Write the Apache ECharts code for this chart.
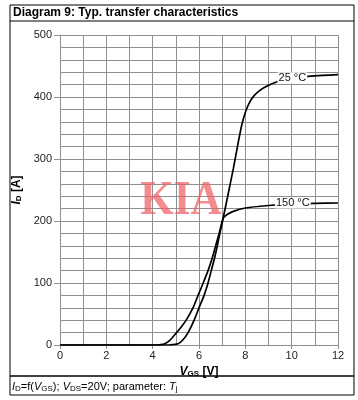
<!DOCTYPE html>
<html><head><meta charset="utf-8">
<script src="https://cdn.jsdelivr.net/npm/echarts@6/dist/echarts.min.js"></script>
<style>html,body{margin:0;padding:0;background:#fff}#c{width:358px;height:400px}</style>
</head><body><div id="c"></div>
<script>
// Axis ticks
const xTicks = [0, 2, 4, 6, 8, 10, 12];
const yTicks = [0, 100, 200, 300, 400, 500];
// I_D [A] vs V_GS [V]
const curve25 = [[0,0],[4.7,0],[4.85,0.5],[5.1,2],[5.3,8],[5.53,20],[5.79,40],[6.0,60],[6.22,80],[6.39,100],[6.53,120],[6.67,140],[6.79,160],[6.9,180],[7.04,204],[7.25,242],[7.48,284],[7.68,324],[7.84,354],[8.0,375],[8.15,389],[8.35,401],[8.6,410],[8.9,417],[9.4,425],[10,430],[11,434],[12,436]];
const curve150 = [[0,0],[4.2,0],[4.35,0.5],[4.52,2],[4.75,8],[5.03,20],[5.25,30],[5.46,41],[5.74,60],[5.96,80],[6.18,100],[6.39,120],[6.57,140],[6.72,160],[6.87,180],[7.04,204],[7.2,210],[7.48,215.5],[8.0,221],[9.0,225],[10,227.5],[11,228.5],[12,229]];
const curveNames = ['25 °C', '150 °C'];
const labelCoords = [[10.03, 431], [10.05, 229]];

const FONT = '"Liberation Sans", Arial, sans-serif';
const chart = echarts.init(document.getElementById('c'), null, {renderer: 'canvas'});
const grid = '#8f8f8f';

function lineSeries(data, i) {
  return {
    type: 'line', data: data, showSymbol: false, smooth: 0.2,
    lineStyle: {color: '#000', width: 1.7}, z: 3,
    markPoint: {
      symbol: 'circle', symbolSize: 1, itemStyle: {color: 'rgba(0,0,0,0)'},
      label: {show: true, position: 'inside', formatter: '{b}', color: '#111', fontSize: 11, fontFamily: FONT,
        backgroundColor: '#fff', padding: [0, 1]},
      data: [{name: curveNames[i], coord: labelCoords[i]}]
    }
  };
}

chart.setOption({
  animation: false,
  backgroundColor: '#fff',
  grid: {left: 60, top: 35, width: 278, height: 310, containLabel: false},
  xAxis: {
    type: 'value', min: xTicks[0], max: xTicks[xTicks.length - 1], interval: 2,
    name: '{vi|V}{sub|GS}{b| [V]}', nameLocation: 'middle', nameGap: 17,
    nameTextStyle: {rich: {
      vi: {fontFamily: FONT, fontSize: 12, fontWeight: 'bold', fontStyle: 'italic', color: '#000', lineHeight: 14, verticalAlign: 'bottom'},
      sub: {fontFamily: FONT, fontSize: 8, fontWeight: 'bold', color: '#000', lineHeight: 14, verticalAlign: 'bottom'},
      b: {fontFamily: FONT, fontSize: 12, fontWeight: 'bold', color: '#000', lineHeight: 14, verticalAlign: 'bottom'}
    }},
    axisLine: {show: true, lineStyle: {color: grid, width: 1}},
    axisTick: {show: true, length: 4, lineStyle: {color: grid}},
    axisLabel: {color: '#222', fontSize: 11, fontFamily: FONT, margin: 5},
    splitLine: {show: true, lineStyle: {color: grid, width: 1}},
    minorTick: {show: false, splitNumber: 2},
    minorSplitLine: {show: true, lineStyle: {color: grid, width: 1}}
  },
  yAxis: {
    type: 'value', min: yTicks[0], max: yTicks[yTicks.length - 1], interval: 100,
    name: '{vi|I}{sub|D}{b| [A]}', nameLocation: 'middle', nameGap: 36, nameRotate: 90,
    nameTextStyle: {rich: {
      vi: {fontFamily: FONT, fontSize: 12, fontWeight: 'bold', fontStyle: 'italic', color: '#000', lineHeight: 14, verticalAlign: 'bottom'},
      sub: {fontFamily: FONT, fontSize: 8, fontWeight: 'bold', color: '#000', lineHeight: 14, verticalAlign: 'bottom'},
      b: {fontFamily: FONT, fontSize: 12, fontWeight: 'bold', color: '#000', lineHeight: 14, verticalAlign: 'bottom'}
    }},
    axisLine: {show: true, lineStyle: {color: grid, width: 1}},
    axisTick: {show: true, length: 6, lineStyle: {color: grid}},
    axisLabel: {color: '#222', fontSize: 11, fontFamily: FONT, margin: 8},
    splitLine: {show: true, lineStyle: {color: grid, width: 1}},
    minorTick: {show: false, splitNumber: 5},
    minorSplitLine: {show: true, lineStyle: {color: grid, width: 1}}
  },
  series: [lineSeries(curve25, 0), lineSeries(curve150, 1)],
  graphic: [
    {type: 'rect', z: 0, shape: {x: 10, y: 5, width: 344, height: 390}, style: {fill: 'none', stroke: '#000', lineWidth: 1}},
    {type: 'line', z: 0, shape: {x1: 10, y1: 21, x2: 354, y2: 21}, style: {stroke: '#000', lineWidth: 1}},
    {type: 'line', z: 0, shape: {x1: 10, y1: 376, x2: 354, y2: 376}, style: {stroke: '#000', lineWidth: 1.5}},
    {type: 'text', z: 5, x: 13, y: 13, style: {text: 'Diagram 9: Typ. transfer characteristics', font: 'bold 12px ' + FONT, fill: '#000', align: 'left', verticalAlign: 'middle'}},
    {type: 'text', z: 1, x: 181, y: 201, scaleX: 0.88, style: {text: 'KIA', font: 'bold 49px "Liberation Serif", "Times New Roman", serif', fill: 'rgba(238,95,100,0.72)', align: 'center', verticalAlign: 'middle'}},
    {type: 'text', z: 5, x: 12, y: 386, style: {
      text: '{i|I}{s|D}{n|=f(}{i|V}{s|GS}{n|); }{i|V}{s|DS}{n|=20V; parameter: }{i|T}{s|j}',
      verticalAlign: 'middle', align: 'left',
      rich: {
        i: {fontFamily: FONT, fontSize: 11, fontStyle: 'italic', fill: '#000', lineHeight: 13, verticalAlign: 'bottom'},
        s: {fontFamily: FONT, fontSize: 8, fill: '#000', lineHeight: 13, verticalAlign: 'bottom'},
        n: {fontFamily: FONT, fontSize: 11, fill: '#000', lineHeight: 13, verticalAlign: 'bottom'}
      }
    }}
  ]
});
</script>
</body></html>
